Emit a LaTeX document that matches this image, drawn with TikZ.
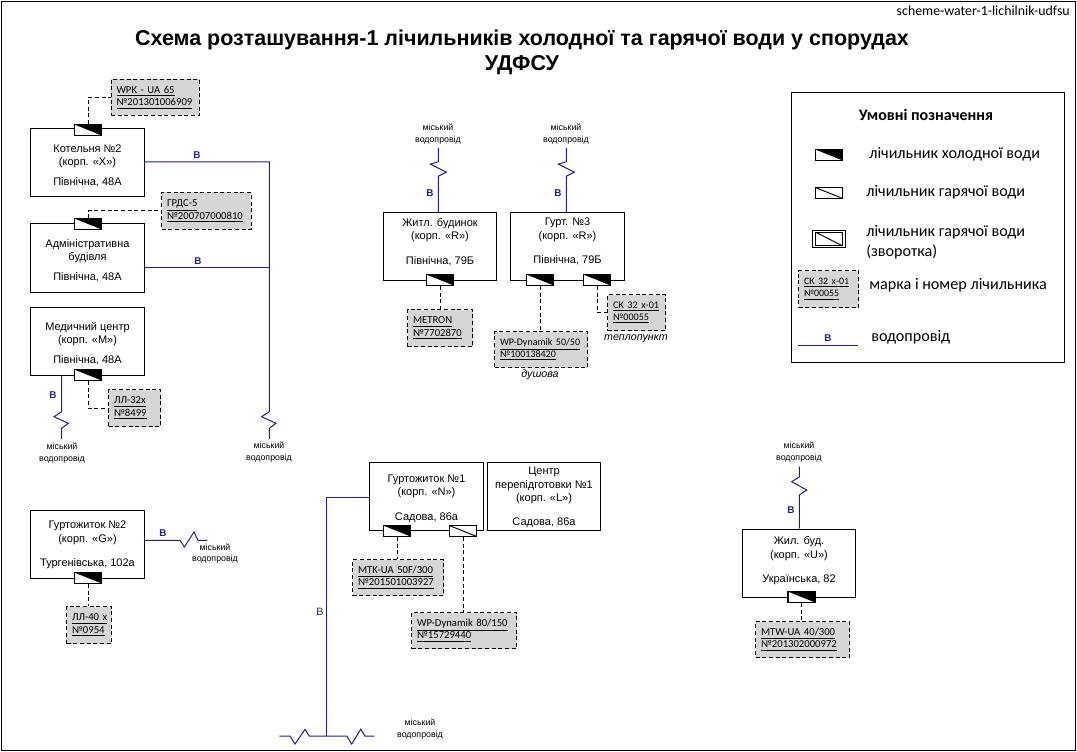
\documentclass[tikz,border=0pt]{standalone}
\usepackage{fontspec}
\setmainfont{Liberation Sans}
\newfontfamily\carl{Carlito}
\definecolor{pipeblue}{HTML}{1F1F8F}
\definecolor{taggray}{HTML}{D6D6D6}
\newcommand\tagtext[2]{\underline{#1}\\[0pt]\underline{#2}}
\newcommand\topup{\rule{0pt}{9.5pt}}
\tikzset{
  bld/.style={draw=black,line width=0.75pt,fill=white,minimum width=85pt,minimum height=51pt,inner sep=0pt,align=center,font=\fontsize{8.25}{10.2}\selectfont},
  meter/.style={draw=black,line width=1pt,fill=white,minimum width=20.5pt,minimum height=8.2pt,inner sep=0pt,
    path picture={\fill[black] (path picture bounding box.north west)--(path picture bounding box.north east)--(path picture bounding box.south east)--cycle;}},
  hotmeter/.style={draw=black,line width=1pt,fill=white,minimum width=20.5pt,minimum height=8.2pt,inner sep=0pt,
    path picture={\draw[black,line width=0.7pt] (path picture bounding box.north west)--(path picture bounding box.south east);}},
  retmeter/.style={draw=black,line width=0.7pt,double,double distance=1pt,fill=white,minimum width=22.5pt,minimum height=11.5pt,inner sep=0pt,
    path picture={\draw[black,line width=0.7pt] (path picture bounding box.north west)--(path picture bounding box.south east);}},
  tagbox/.style 2 args={draw=black,line width=0.75pt,dash pattern=on 3pt off 2pt,fill=taggray,anchor=north west,
    minimum width=#1*0.75pt,minimum height=#2*0.75pt,text width=(#1-11)*0.75pt,inner xsep=4.1pt,inner ysep=0pt,align=left,
    font=\carl\fontsize{8}{9.2}\selectfont},
  pipe/.style={draw=pipeblue,line width=0.75pt},
  dashline/.style={draw=black,line width=0.75pt,dash pattern=on 3pt off 2pt},
  blab/.style={text=pipeblue,font=\bfseries\fontsize{7.4}{8}\selectfont,inner sep=0pt},
  city/.style={align=center,inner sep=0pt,font=\fontsize{6.6}{8.6}\selectfont},
  note/.style={inner sep=0pt,font=\itshape\fontsize{8}{10}\selectfont},
  legtext/.style={anchor=west,inner sep=0pt,align=left,font=\carl\fontsize{12.1}{15}\selectfont},
}
\begin{document}
\begin{tikzpicture}[x=0.75pt,y=-0.75pt]
\useasboundingbox (0,0) rectangle (1077,752);
\node[draw=black,line width=0.9pt,minimum width=805.5pt,minimum height=561.5pt,inner sep=0pt] (frame) at (538.5,376) {};
\node[anchor=east,inner sep=0pt,font=\carl\fontsize{10.4}{12}\selectfont] (code) at (1070,11) {scheme-water-1-lichilnik-udfsu};
\node[align=center,inner sep=0pt,font=\bfseries\fontsize{16.1}{18.6}\selectfont] (title) at (522,52) {Схема розташування-1 лічильників холодної та гарячої води у спорудах\\УДФСУ};

% buildings
\node[bld] (kot) at (87.5,163) {\topup Котельня №2\\(корп. «Х»)\\[4.5pt]Північна, 48А};
\node[bld] (adm) at (87.5,258) {\topup Адміністративна\\будівля\\[4.5pt]Північна, 48А};
\node[bld] (med) at (87.5,341) {\topup Медичний центр\\(корп. «М»)\\[4.5pt]Північна, 48А};
\node[bld] (gur2) at (87.5,544) {\rule{0pt}{7.5pt}Гуртожиток №2\\(корп. «G»)\\[8pt]Тургенівська, 102а};
\node[bld] (zht) at (440,246.5) {Житл. будинок\\(корп. «R»)\\[8pt]Північна, 79Б\\[-2pt]\rule{0pt}{5pt}};
\node[bld] (gur3) at (567.5,246.5) {Гурт. №3\\(корп. «R»)\\[8pt]Північна, 79Б\\[-2pt]\rule{0pt}{5pt}};
\node[bld] (gur1) at (426.5,496) {\topup Гуртожиток №1\\(корп. «N»)\\[8pt]Садова, 86а};
\node[bld] (cen) at (544,496) {\rule{0pt}{8pt}Центр\\перепідготовки №1\\(корп. «L»)\\[8pt]Садова, 86а};
\node[bld] (zhl) at (799,563) {\topup Жил. буд.\\(корп. «U»)\\[8pt]Українська, 82\\[-2pt]\rule{0pt}{5pt}};

% legend frame
\node[draw=black,line width=0.75pt,fill=white,minimum width=204.75pt,minimum height=201.75pt,inner sep=0pt] (legend) at (927.5,227.5) {};

% meters
\node[meter] (mkot) at (88,130) {};
\node[meter] (madm) at (88,224) {};
\node[meter] (mmed) at (88,375) {};
\node[meter] (mgur2) at (88,578) {};
\node[meter] (mzht) at (440,280) {};
\node[meter] (mgur3a) at (540,280) {};
\node[meter] (mgur3b) at (597,280) {};
\node[meter] (mgur1a) at (397,531) {};
\node[hotmeter] (mgur1b) at (463,531) {};
\node[meter] (mzhl) at (801.5,597) {};

% tags
\node[tagbox={88.5}{36}] (tkot) at (110.5,79) {\tagtext{WPK - UA 65}{№201301006909}};
\node[tagbox={89.5}{37}] (tadm) at (161,192) {\tagtext{ГРДС-5}{№200707000810}};
\node[tagbox={52}{37}] (tmed) at (108,389) {\tagtext{ЛЛ-32х}{№8499}};
\node[tagbox={45}{37}] (tgur2) at (66,606) {\tagtext{ЛЛ-40 х}{№0954}};
\node[tagbox={65}{37}] (tzht) at (407,309) {\tagtext{METRON}{№7702870}};
\node[tagbox={93}{36}] (tg3a) at (494,331) {\fontsize{7.5}{9.2}\selectfont\tagtext{WP-Dynamik 50/50}{№100138420}};
\node[tagbox={58}{36}] (tg3b) at (607,294) {\fontsize{7.6}{9.2}\selectfont\tagtext{СК 32 х-01}{№00055}};
\node[tagbox={91}{36}] (tg1a) at (352,559) {\tagtext{MTK-UA 50F/300}{№201501003927}};
\node[tagbox={105}{36}] (tg1b) at (411,612) {\tagtext{WP-Dynamik 80/150}{№15729440}};
\node[tagbox={94}{36}] (tzhl) at (755,621) {\tagtext{MTW-UA 40/300}{№201302000972}};

% dashed leaders
\draw[dashline] (mkot.north) |- (tkot.west);
\draw[dashline] (madm.north) |- (tadm.west);
\draw[dashline] (mmed.south) |- (tmed.west);
\draw[dashline] (mgur2.south) -- (mgur2.south |- tgur2.north);
\draw[dashline] (mzht.south) -- (mzht.south |- tzht.north);
\draw[dashline] (mgur3a.south) -- (mgur3a.south |- tg3a.north);
\draw[dashline] (mgur3b.south) |- (tg3b.west);
\draw[dashline] (mgur1a.south) -- (mgur1a.south |- tg1a.north);
\draw[dashline] (mgur1b.south) -- (mgur1b.south |- tg1b.north);
\draw[dashline] (mzhl.south) -- (mzhl.south |- tzhl.north);

% pipes
\coordinate (c1) at (269.3,162);
\coordinate (c2) at (269.3,267);
\draw[pipe] (c1 -| kot.east) -- (c1) -- (269.3,411.7) -- ++(-7.7,5) -- ++(14.3,6.6) -- ++(-6.6,5) -- (269.3,439);
\draw[pipe] (c2 -| adm.east) -- (c2);
\coordinate (c3) at (61.7,439);
\draw[pipe] (c3 |- med.south) -- (61.7,411.7) -- ++(-7.7,5) -- ++(14.3,6.6) -- ++(-6.6,5) -- (c3);
\coordinate (c4) at (438.3,148);
\draw[pipe] (c4) -- (438.3,161.7) -- ++(-8,2.5) -- ++(16,8) -- ++(-8,4) -- (c4 |- zht.north);
\coordinate (c5) at (566.3,148);
\draw[pipe] (c5) -- (566.3,161.7) -- ++(-8,2.5) -- ++(16,8) -- ++(-8,4) -- (c5 |- gur3.north);
\coordinate (c6) at (799.3,466.7);
\draw[pipe] (c6) -- (799.3,477) -- ++(-7.6,4.7) -- ++(15,8.3) -- ++(-7.4,5) -- (c6 |- zhl.north);
\coordinate (c7) at (207.3,540.3);
\draw[pipe] (c7 -| gur2.east) -- (180,540.3) -- ++(4.3,6.7) -- ++(9.7,-15) -- ++(4,8.3) -- (c7);
\coordinate (c8) at (326.7,497.3);
\coordinate (c9) at (326.7,736);
\draw[pipe] (c8 -| gur1.west) -- (c8) -- (c9);
\draw[pipe] (279.3,736) -- (290,736) -- ++(5,8) -- ++(10,-14.7) -- ++(4.3,6.7) -- (c9) -- (346.7,736) -- ++(5,8) -- ++(9,-14.7) -- ++(4.3,6.7) -- (374.3,736);

% pipe letters
\node[blab] (b1) at (197,155) {В};
\node[blab] (b2) at (198,261) {В};
\node[blab] (b3) at (53,395) {В};
\node[blab] (b4) at (163,533) {В};
\node[blab] (b5) at (430,193) {В};
\node[blab] (b6) at (558,193) {В};
\node[blab] (b7) at (791,510) {В};
\node[blab,font=\fontsize{8}{9}\selectfont] (b8) at (320,612) {В};

% city labels
\node[city] (s1) at (438,134) {міський\\водопровід};
\node[city] (s2) at (566,134) {міський\\водопровід};
\node[city] (s3) at (62,453) {міський\\водопровід};
\node[city] (s4) at (269,452) {міський\\водопровід};
\node[city] (s5) at (215,553.5) {міський\\водопровід};
\node[city] (s6) at (420,729) {міський\\водопровід};
\node[city] (s7) at (799,452) {міський\\водопровід};

\node[note] (n1) at (540,375) {душова};
\node[note] (n2) at (636,339) {теплопункт};

% legend content
\node[inner sep=0pt,font=\carl\bfseries\fontsize{12}{13}\selectfont] (lt) at (926,115) {Умовні позначення};
\node[meter] (lm1) at (829,155) {};
\node[hotmeter,line width=0.75pt] (lm2) at (829,193) {};
\node[retmeter] (lm3) at (829,239) {};
\node[tagbox={60}{37}] (lm4) at (798,270) {\fontsize{7.4}{9.2}\selectfont\tagtext{СК 32 х-01}{№00055}};
\node[legtext] (lx1) at (869,154) {лічильник холодної води};
\node[legtext] (lx2) at (866,192) {лічильник гарячої води};
\node[legtext] (lx3) at (866,242) {лічильник гарячої води\\(зворотка)};
\node[legtext] (lx4) at (869,285) {марка і номер лічильника};
\node[legtext] (lx5) at (871,337) {водопровід};
\coordinate (l1) at (798,345);
\coordinate (l2) at (858,345);
\draw[pipe] (l1) -- (l2);
\node[blab] (b9) at (828,338) {В};
\end{tikzpicture}
\end{document}
